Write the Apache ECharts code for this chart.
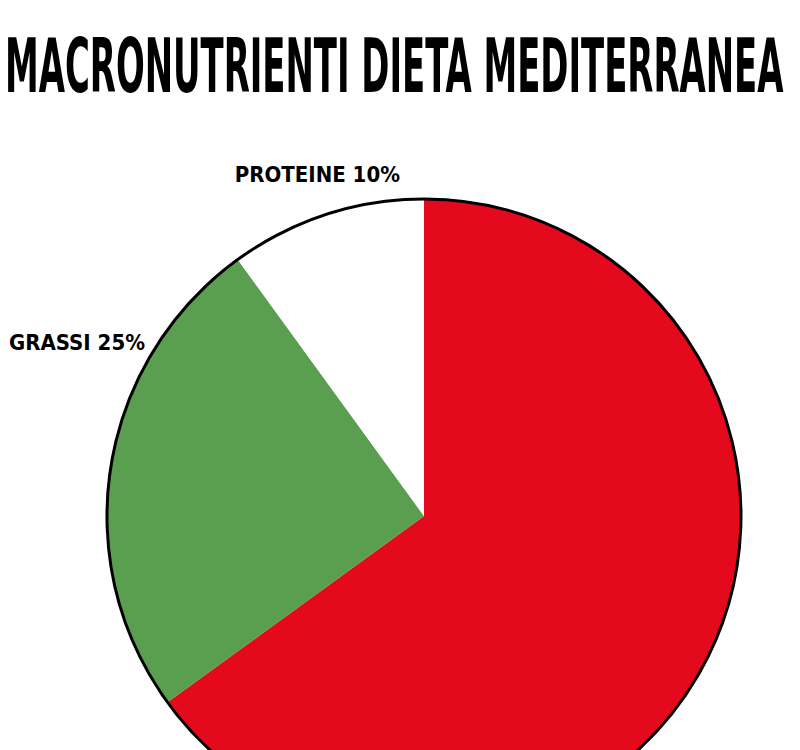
<!DOCTYPE html>
<html><head><meta charset="utf-8">
<script src="https://cdn.jsdelivr.net/npm/echarts@6/dist/echarts.min.js"></script>
<style>html,body{margin:0;padding:0;background:#fff}#c{width:800px;height:750px}</style>
</head><body><div id="c"></div>
<script>
const titleText = 'MACRONUTRIENTI DIETA MEDITERRANEA';
const categories = ['CARBOIDRATI', 'GRASSI', 'PROTEINE'];
const values = [65, 25, 10];
const colors = ['#E5091E', '#5A9E4F', '#FFFFFF'];
const showLabel = [false, true, true];

const FONT = 'DejaVu Sans Condensed, DejaVu Sans, sans-serif';

const cv = document.createElement('canvas').getContext('2d');
const titleSize = 74;
cv.font = 'bold ' + titleSize + 'px ' + FONT;
const tw = cv.measureText(titleText).width;
const titleScale = 778 / tw;

const chart = echarts.init(document.getElementById('c'), null, {renderer: 'svg'});
chart.setOption({
  backgroundColor: '#fff',
  animation: false,
  graphic: [{
    type: 'text',
    x: 5, y: 30,
    scaleX: titleScale, scaleY: 1,
    style: {text: titleText, font: 'bold ' + titleSize + 'px ' + FONT, fill: '#000', textVerticalAlign: 'top'}
  }],
  series: [{
    type: 'pie',
    center: [424, 516],
    radius: 317,
    startAngle: 90,
    clockwise: true,
    silent: true,
    data: categories.map((c, i) => ({
      name: c, value: values[i],
      itemStyle: {color: colors[i]},
      label: {show: showLabel[i]}
    })),
    label: {
      position: 'outside',
      overflow: 'none',
      formatter: p => p.name + ' ' + p.value + '%',
      fontFamily: FONT, fontWeight: 'bold', fontSize: 22, color: '#000'
    },
    labelLine: {show: false, length: 10, length2: 0},
    labelLayout: p => p.dataIndex === 2
      ? {x: 400, y: 174, align: 'right', verticalAlign: 'middle'}
      : {x: 145, y: 342, align: 'right', verticalAlign: 'middle'},
    itemStyle: {borderWidth: 0}
  }, {
    type: 'pie',
    center: [424, 516],
    radius: 317,
    silent: true,
    label: {show: false},
    labelLine: {show: false},
    data: [{value: 1, itemStyle: {color: 'rgba(0,0,0,0)', borderColor: '#000', borderWidth: 3}}]
  }]
});
</script></body></html>
